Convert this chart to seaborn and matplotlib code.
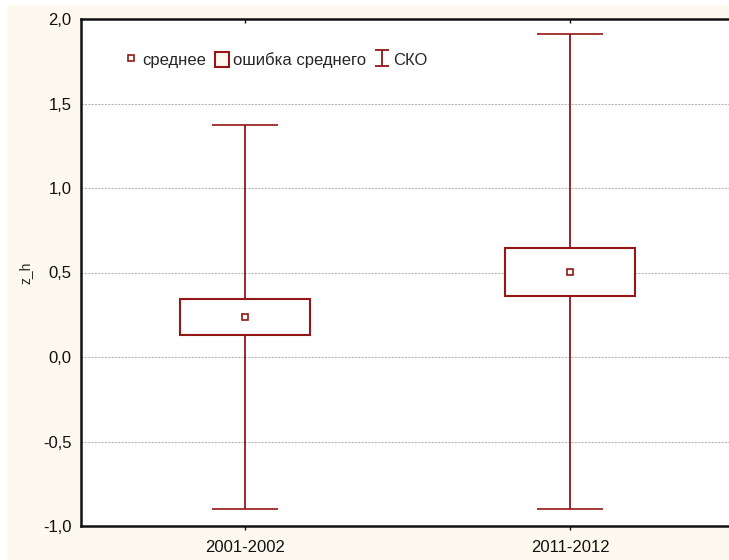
import matplotlib
matplotlib.use("Agg")
import matplotlib.pyplot as plt
from matplotlib.patches import Rectangle, Patch
from matplotlib.lines import Line2D
from matplotlib.path import Path
from matplotlib.ticker import FixedLocator, FuncFormatter
import seaborn as sns
import pandas as pd

# Groups and their summary statistics for z_h
groups = ["2001-2002", "2011-2012"]
means = [0.235, 0.504]
std_errors = [0.106, 0.142]
std_devs = [1.135, 1.406]

y_ticks = [-1.0, -0.5, 0.0, 0.5, 1.0, 1.5, 2.0]

RED = "#941616"
CREAM = "#FEF9EE"

sns.set_style("white")
plt.rcParams["font.family"] = ["Liberation Sans", "DejaVu Sans"]
plt.rcParams["font.size"] = 12

df = pd.DataFrame({"group": groups, "mean": means, "se": std_errors, "sd": std_devs})

fig = plt.figure(figsize=(7.29, 5.6), dpi=100, facecolor="white")
fig.patches.append(Rectangle((7 / 729, 0), 1, 1 - 5 / 560, transform=fig.transFigure,
                             facecolor=CREAM, edgecolor="none", zorder=-10))

ax = fig.add_axes([81 / 729, 34 / 560, 653 / 729, 507 / 560])
ax.set_facecolor("white")

pos = list(range(len(groups)))

# SD whiskers with caps
ax.errorbar(pos, df["mean"], yerr=df["sd"], fmt="none", ecolor=RED,
            elinewidth=1.3, capsize=24, capthick=1.3, zorder=2)

# SE boxes (white fill hides the whisker inside)
ax.bar(pos, 2 * df["se"], bottom=df["mean"] - df["se"], width=0.4,
       facecolor="white", edgecolor=RED, linewidth=1.5, zorder=3)

# Means
sns.pointplot(data=df, x="group", y="mean", color=RED, markers="s",
              linestyles="none", errorbar=None, ax=ax, markersize=5)
for ln in ax.lines:
    ln.set_markerfacecolor("white")
    ln.set_markeredgewidth(1.2)
    ln.set_zorder(5)

ax.set_xlim(-0.5046, 1.5046)
ax.set_ylim(-1.0, 2.0)
ax.yaxis.set_major_locator(FixedLocator(y_ticks))
ax.yaxis.set_major_formatter(FuncFormatter(lambda v, p: f"{v:.1f}".replace(".", ",")))
ax.set_xlabel("")
ax.set_ylabel("z_h", fontsize=10)
ax.yaxis.set_label_coords(-0.075, 0.5)

# Grid
for yv in y_ticks[1:-1]:
    ax.axhline(yv, color="#b8b8b8", linewidth=0.8, dashes=(2, 1), zorder=1)

for side in ["left", "top", "bottom"]:
    ax.spines[side].set_color("#111111")
    ax.spines[side].set_linewidth(1.8)
ax.spines["right"].set_visible(False)

ax.tick_params(axis="y", direction="in", length=4, width=1, pad=7, labelsize=12,
               colors="#111111")
ax.tick_params(axis="x", direction="out", length=3, width=1, pad=7, labelsize=12,
               colors="#111111", bottom=True, top=False)

# Small inward ticks along the top edge
top = ax.secondary_xaxis("top")
top.set_xticks(pos)
top.tick_params(direction="in", length=3, width=1, labeltop=False, colors="#111111")
top.spines["top"].set_visible(False)

# Legend
ibeam = Path([(-0.85, -1), (0.85, -1), (0, -1), (0, 1), (-0.85, 1), (0.85, 1)],
             [Path.MOVETO, Path.LINETO, Path.MOVETO, Path.LINETO, Path.MOVETO, Path.LINETO])
handles = [
    Line2D([], [], linestyle="none", marker="s", markersize=5, markerfacecolor="white",
           markeredgecolor=RED, markeredgewidth=1.2),
    Patch(facecolor=CREAM, edgecolor=RED, linewidth=1.5),
    Line2D([], [], linestyle="none", marker=ibeam, markersize=12, markerfacecolor="none",
           markeredgecolor=RED, markeredgewidth=1.3),
]
labels = ["среднее", "ошибка среднего", "СКО"]
ax.legend(handles, labels, loc="center left", bbox_to_anchor=(124 / 729, 1 - 60 / 560),
          bbox_transform=fig.transFigure, ncol=3, frameon=False, borderpad=0,
          borderaxespad=0, handlelength=0.84, handleheight=1.05, handletextpad=0.27,
          columnspacing=0.5, fontsize=12)

fig.savefig("out.png", dpi=100, facecolor=fig.get_facecolor())
